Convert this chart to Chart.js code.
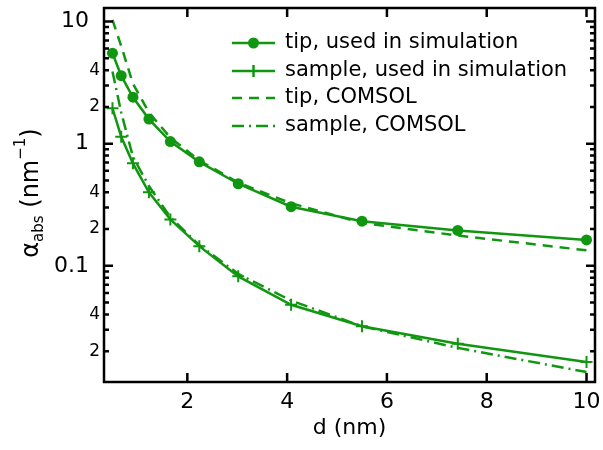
<!DOCTYPE html>
<html><head><meta charset="utf-8">
<script src="https://cdn.jsdelivr.net/npm/chart.js@4.4.0/dist/chart.umd.min.js"></script>
<style>html,body{margin:0;padding:0;background:#fff;}#wrap{width:603px;height:450px;}</style>
</head><body>
<div id="wrap"><canvas id="c" width="603" height="450"></canvas></div>
<script>
// ---- data ----
const dValues      = [0.5, 0.675, 0.91, 1.23, 1.66, 2.24, 3.02, 4.08, 5.5, 7.42, 10];
const tipSim       = [5.5, 3.6, 2.4, 1.59, 1.04, 0.71, 0.47, 0.305, 0.232, 0.195, 0.163];
const sampleSim    = [1.95, 1.14, 0.69, 0.40, 0.24, 0.145, 0.082, 0.048, 0.032, 0.023, 0.0163];
const tipComsol    = [10.3, 6.3, 3.1, 1.8, 1.12, 0.73, 0.48, 0.325, 0.225, 0.177, 0.134];
const sampleComsol = [3.9, 1.8, 0.78, 0.45, 0.25, 0.148, 0.086, 0.052, 0.032, 0.0213, 0.0135];
const xTickValues  = [2, 4, 6, 8, 10];
const yTickValues  = [0.02, 0.04, 0.1, 0.2, 0.4, 1, 2, 4, 10];
const yTickLabels  = ['2', '4', '0.1', '2', '4', '1', '2', '4', '10'];
const yMajorValues = [0.1, 1, 10];
const seriesLabels = ['tip, used in simulation', 'sample, used in simulation', 'tip, COMSOL', 'sample, COMSOL'];
const xTitle = 'd (nm)';

const GREEN = 'rgb(16,150,16)';
const FONT = "'DejaVu Sans', sans-serif";
const DASH = [10, 7];
const DASHDOT = [12, 5, 2, 5];
const LW = 2.5;

function pts(ys) { return dValues.map((x, i) => ({x: x, y: ys[i]})); }
function near(a, b) { return Math.abs(a - b) <= Math.abs(b) * 1e-6; }
function isMajor(v) { return yMajorValues.some(m => near(v, m)); }

const frameTicks = {
  id: 'frameTicks',
  afterDraw(chart) {
    const ctx = chart.ctx, a = chart.chartArea;
    const xs = chart.scales.x, ys = chart.scales.y;
    ctx.save();
    ctx.strokeStyle = '#000';
    ctx.lineWidth = 2.5;
    ctx.setLineDash([]);
    ctx.strokeRect(a.left, a.top, a.right - a.left, a.bottom - a.top);
    ctx.beginPath();
    ys.ticks.forEach(t => {
      const y = ys.getPixelForValue(t.value);
      const len = isMajor(t.value) ? 9 : 5;
      ctx.moveTo(a.left, y); ctx.lineTo(a.left + len, y);
      ctx.moveTo(a.right, y); ctx.lineTo(a.right - len, y);
    });
    xs.ticks.forEach(t => {
      const x = xs.getPixelForValue(t.value);
      ctx.moveTo(x, a.bottom); ctx.lineTo(x, a.bottom - 9);
      ctx.moveTo(x, a.top); ctx.lineTo(x, a.top + 9);
    });
    ctx.stroke();

    // y axis title with subscript / superscript
    const parts = [
      {t: '\u03b1', size: 24, dy: 0},
      {t: 'abs', size: 15, dy: 5},
      {t: ' (nm', size: 24, dy: 0},
      {t: '\u22121', size: 15, dy: -13},
      {t: ')', size: 24, dy: 0}
    ];
    let total = 0;
    parts.forEach(p => { ctx.font = p.size + 'px ' + FONT; p.w = ctx.measureText(p.t).width; total += p.w; });
    const cy = (a.top + a.bottom) / 2 - 2;
    ctx.translate(38, cy);
    ctx.rotate(-Math.PI / 2);
    ctx.fillStyle = '#000';
    ctx.textBaseline = 'alphabetic';
    ctx.textAlign = 'left';
    let x = -total / 2;
    parts.forEach(p => { ctx.font = p.size + 'px ' + FONT; ctx.fillText(p.t, x, p.dy); x += p.w; });
    ctx.restore();

    // legend
    ctx.save();
    const rows = [43, 71, 98, 126];
    const styles = [
      {dash: [], marker: 'circle'},
      {dash: [], marker: 'cross'},
      {dash: DASH, marker: null},
      {dash: DASHDOT, marker: null}
    ];
    rows.forEach((y, i) => {
      ctx.strokeStyle = GREEN;
      ctx.lineWidth = LW;
      ctx.setLineDash(styles[i].dash);
      ctx.beginPath(); ctx.moveTo(232, y); ctx.lineTo(275, y); ctx.stroke();
      ctx.setLineDash([]);
      if (styles[i].marker === 'circle') {
        ctx.fillStyle = GREEN; ctx.beginPath(); ctx.arc(253.5, y, 5.5, 0, Math.PI * 2); ctx.fill();
      } else if (styles[i].marker === 'cross') {
        ctx.beginPath(); ctx.moveTo(253.5, y - 6); ctx.lineTo(253.5, y + 6); ctx.stroke();
      }
      ctx.fillStyle = '#000';
      ctx.font = '21px ' + FONT;
      ctx.textBaseline = 'middle';
      ctx.fillText(seriesLabels[i], 285, y);
    });
    ctx.restore();
  }
};

new Chart(document.getElementById('c'), {
  type: 'line',
  data: {
    datasets: [
      {label: seriesLabels[2], data: pts(tipComsol), borderColor: GREEN, borderWidth: LW, borderDash: DASH, pointRadius: 0, fill: false},
      {label: seriesLabels[3], data: pts(sampleComsol), borderColor: GREEN, borderWidth: LW, borderDash: DASHDOT, pointRadius: 0, fill: false},
      {label: seriesLabels[0], data: pts(tipSim), borderColor: GREEN, borderWidth: LW, pointStyle: 'circle', pointRadius: 5.5, pointBackgroundColor: GREEN, pointBorderColor: GREEN, pointBorderWidth: 0, fill: false},
      {label: seriesLabels[1], data: pts(sampleSim), borderColor: GREEN, borderWidth: LW, pointStyle: 'cross', pointRadius: 6, pointBorderColor: GREEN, pointBorderWidth: 2, fill: false}
    ]
  },
  options: {
    responsive: false,
    animation: false,
    devicePixelRatio: 1,
    layout: {padding: {top: 8, right: 5, left: 0, bottom: 0}},
    plugins: {legend: {display: false}, tooltip: {enabled: false}},
    scales: {
      x: {
        type: 'linear', min: 0.33, max: 10.17,
        grid: {display: false, drawTicks: false}, border: {display: false},
        afterBuildTicks: s => { s.ticks = xTickValues.map(v => ({value: v})); },
        afterFit: s => { s.height = 68; s.paddingLeft = 0; s.paddingRight = 0; },
        ticks: {font: {family: FONT, size: 22}, color: '#000', padding: 7, autoSkip: false, maxRotation: 0,
                callback: v => String(v)},
        title: {display: true, text: xTitle, font: {family: FONT, size: 22}, color: '#000', padding: {top: 0, bottom: 9}}
      },
      y: {
        type: 'logarithmic', min: 0.0112, max: 12.9,
        grid: {display: false, drawTicks: false}, border: {display: false},
        afterBuildTicks: s => {
          const out = [];
          [0.01, 0.1, 1, 10].forEach(dec => {
            for (let m = 1; m <= 9; m++) {
              const v = dec * m;
              if (v >= s.min && v <= s.max) out.push({value: v});
            }
          });
          s.ticks = out;
        },
        afterFit: s => { s.width = 104; s.paddingTop = 0; s.paddingBottom = 0; },
        ticks: {
          autoSkip: false, color: '#000', padding: 4,
          font: c => ({family: FONT, size: (c.tick && isMajor(c.tick.value)) ? 22 : 17}),
          callback: v => {
            const i = yTickValues.findIndex(t => near(v, t));
            if (i < 0) return '';
            return yTickLabels[i] + (isMajor(v) ? '\u2002' : '');
          }
        }
      }
    }
  },
  plugins: [frameTicks]
});
</script>
</body></html>
